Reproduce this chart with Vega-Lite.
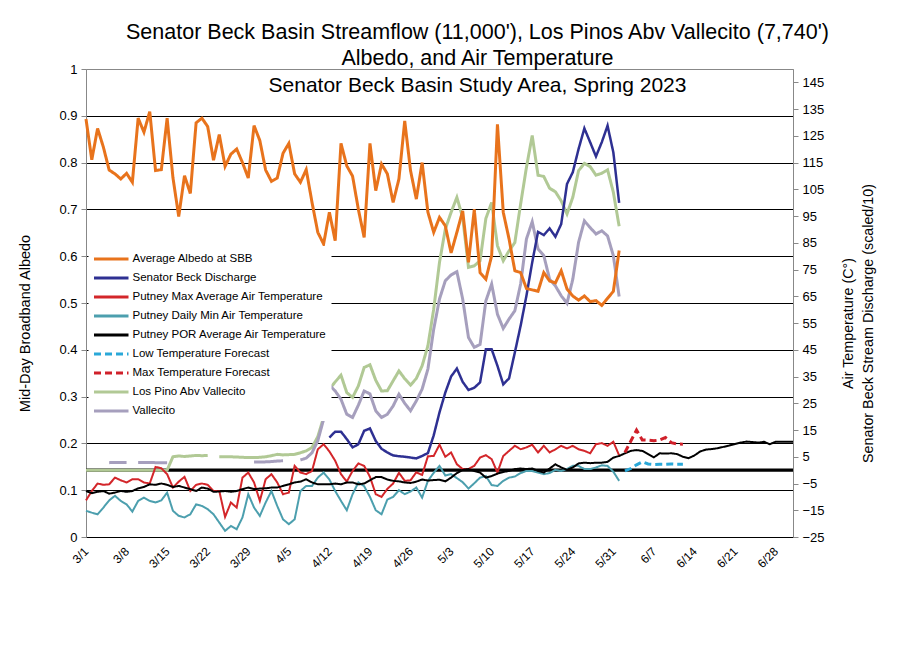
{
"$schema": "https://vega.github.io/schema/vega-lite/v6.json",
"width": 707, "height": 468,
"autosize": {"type": "none"},
"padding": {"left": 86, "top": 69, "right": 116, "bottom": 123},
"background": "white",
"config": {"font": "Liberation Sans", "view": {"stroke": "#888", "strokeWidth": 1}},
"title": {"text": ["Senator Beck Basin Streamflow (11,000'), Los Pinos Abv Vallecito (7,740')", "Albedo, and Air Temperature"], "subtitle": "Senator Beck Basin Study Area, Spring 2023", "anchor": "middle", "frame": "group", "dx": 38, "offset": -33, "font": "Liberation Sans", "fontSize": 21.5, "fontWeight": "normal", "lineHeight": 26, "color": "#000", "subtitleFont": "Liberation Sans", "subtitleFontSize": 21, "subtitleColor": "#000", "subtitlePadding": 6},
"data": {"values": [
{"t":"2023-03-01","a":0.893,"mx":-11.3,"mn":-15.2,"p":-7.8,"lp":0},
{"t":"2023-03-02","a":0.806,"mx":-7.8,"mn":-15.9,"p":-8.6,"lp":0},
{"t":"2023-03-03","a":0.873,"mx":-5.0,"mn":-16.5,"p":-8.1,"lp":0},
{"t":"2023-03-04","a":0.833,"mx":-5.5,"mn":-14.0,"p":-7.8,"lp":0},
{"t":"2023-03-05","a":0.784,"mx":-5.3,"mn":-11.3,"p":-8.8,"lp":0,"v":2.8},
{"t":"2023-03-06","a":0.776,"mx":-2.8,"mn":-9.6,"p":-8.4,"lp":0,"v":2.9},
{"t":"2023-03-07","a":0.765,"mx":-3.8,"mn":-11.5,"p":-7.8,"lp":0,"v":2.9},
{"t":"2023-03-08","a":0.777,"mx":-4.6,"mn":-12.8,"p":-8.1,"lp":0,"v":2.9},
{"t":"2023-03-09","a":0.758,"mx":-3.4,"mn":-15.5,"p":-7.8,"lp":0},
{"t":"2023-03-10","a":0.895,"mx":-3.4,"mn":-11.5,"p":-6.8,"lp":0,"v":2.9},
{"t":"2023-03-11","a":0.865,"mx":-4.6,"mn":-10.3,"p":-6.3,"lp":0,"v":2.9},
{"t":"2023-03-12","a":0.909,"mx":-5.0,"mn":-11.5,"p":-5.3,"lp":0,"v":2.9},
{"t":"2023-03-13","a":0.783,"mx":1.2,"mn":-12.1,"p":-5.5,"lp":0,"v":2.8},
{"t":"2023-03-14","a":0.785,"mx":0.7,"mn":-11.3,"p":-5.0,"lp":0,"v":2.8},
{"t":"2023-03-15","a":0.895,"mx":-1.5,"mn":-8.4,"p":-5.5,"lp":0,"v":2.8},
{"t":"2023-03-16","a":0.768,"mx":-6.5,"mn":-15.2,"p":-6.3,"lp":5.0},
{"t":"2023-03-17","a":0.685,"mx":-4.3,"mn":-17.1,"p":-5.9,"lp":5.3},
{"t":"2023-03-18","a":0.772,"mx":-2.5,"mn":-17.7,"p":-6.5,"lp":5.1},
{"t":"2023-03-19","a":0.734,"mx":-7.8,"mn":-16.5,"p":-7.1,"lp":5.3},
{"t":"2023-03-20","a":0.885,"mx":-5.5,"mn":-12.8,"p":-7.8,"lp":5.5},
{"t":"2023-03-21","a":0.895,"mx":-5.0,"mn":-13.4,"p":-6.5,"lp":5.4},
{"t":"2023-03-22","a":0.877,"mx":-5.5,"mn":-14.6,"p":-6.9,"lp":5.5},
{"t":"2023-03-23","a":0.805,"mx":-7.8,"mn":-16.5,"p":-8.1},
{"t":"2023-03-24","a":0.86,"mx":-7.8,"mn":-19.6,"p":-8.0,"lp":5.0},
{"t":"2023-03-25","a":0.792,"mx":-17.5,"mn":-22.7,"p":-7.8,"lp":5.0},
{"t":"2023-03-26","a":0.818,"mx":-12.1,"mn":-20.9,"p":-8.1,"lp":5.0},
{"t":"2023-03-27","a":0.829,"mx":-14.0,"mn":-22.1,"p":-7.8,"lp":4.9},
{"t":"2023-03-28","a":0.80,"mx":-2.8,"mn":-17.7,"p":-7.1,"lp":4.8},
{"t":"2023-03-29","a":0.767,"mx":-0.9,"mn":-9.0,"p":-6.5,"lp":4.7},
{"t":"2023-03-30","a":0.879,"mx":-4.6,"mn":-14.0,"p":-7.1,"lp":4.7,"v":3.0},
{"t":"2023-03-31","a":0.847,"mx":-11.5,"mn":-17.1,"p":-6.9,"lp":4.8,"v":3.0},
{"t":"2023-04-01","a":0.784,"mx":-3.4,"mn":-12.1,"p":-6.8,"lp":5.0,"v":3.1},
{"t":"2023-04-02","a":0.76,"mx":-1.5,"mn":-7.8,"p":-6.5,"lp":5.4,"v":3.2},
{"t":"2023-04-03","a":0.767,"mx":-4.6,"mn":-13.4,"p":-6.5,"lp":5.9,"v":3.4},
{"t":"2023-04-04","a":0.82,"mx":-9.0,"mn":-18.4,"p":-5.9,"lp":5.7,"v":3.5},
{"t":"2023-04-05","a":0.841,"mx":-8.4,"mn":-20.2,"p":-5.3,"lp":5.8},
{"t":"2023-04-06","a":0.776,"mx":1.6,"mn":-18.4,"p":-4.6,"lp":5.9},
{"t":"2023-04-07","a":0.758,"mx":-0.9,"mn":-7.8,"p":-4.3,"lp":6.5,"v":3.8},
{"t":"2023-04-08","a":0.785,"mx":-1.5,"mn":-5.9,"p":-3.4,"lp":7.2,"v":4.5},
{"t":"2023-04-09","a":0.715,"mx":-0.3,"mn":-5.9,"p":-4.6,"lp":8.5,"v":6.5},
{"t":"2023-04-10","a":0.651,"mx":7.8,"mn":-2.8,"p":-5.3,"lp":12.5,"v":11},
{"t":"2023-04-11","a":0.626,"mx":9.7,"mn":-0.9,"p":-5.3,"lp":19.7,"v":19},
{"t":"2023-04-12","a":0.694,"q":12.2,"mx":7.0,"mn":-3.5,"p":-5.3,"lp":30.3,"v":31.8},
{"t":"2023-04-13","a":0.633,"q":14.4,"mx":3.5,"mn":-7.8,"p":-5.0,"lp":33,"v":29.6},
{"t":"2023-04-14","a":0.841,"q":14.4,"mx":-1.5,"mn":-11.5,"p":-5.3,"lp":35.5,"v":26.5},
{"t":"2023-04-15","a":0.793,"q":11.6,"mx":-4.3,"mn":-15,"p":-4.6,"lp":29.0,"v":20.9},
{"t":"2023-04-16","a":0.771,"q":8.5,"mx":-0.3,"mn":-9,"p":-4.6,"lp":27.2,"v":19.7},
{"t":"2023-04-17","a":0.70,"q":9.7,"mx":2.5,"mn":-4.6,"p":-5.3,"lp":31.5,"v":24.3},
{"t":"2023-04-18","a":0.64,"q":14.7,"mx":1.6,"mn":-6,"p":-5.0,"lp":38.4,"v":29.6},
{"t":"2023-04-19","a":0.841,"q":15.6,"mx":-2.5,"mn":-10,"p":-3.8,"lp":39.4,"v":28.5},
{"t":"2023-04-20","a":0.74,"q":10.9,"mx":-9,"mn":-15,"p":-2.6,"lp":33.6,"v":22.2},
{"t":"2023-04-21","a":0.797,"q":8.0,"mx":-10,"mn":-16.5,"p":-2.6,"lp":29.6,"v":19.7},
{"t":"2023-04-22","a":0.776,"q":6.6,"mx":-7,"mn":-11,"p":-3.5,"lp":29.7,"v":20.9},
{"t":"2023-04-23","a":0.715,"q":5.5,"mx":-5,"mn":-10,"p":-4.0,"lp":33.4,"v":24.0},
{"t":"2023-04-24","a":0.765,"q":5.2,"mx":-1,"mn":-7.5,"p":-4.2,"lp":37.1,"v":28.4},
{"t":"2023-04-25","a":0.889,"q":5.0,"mx":-4,"mn":-9,"p":-4.6,"lp":34.2,"v":25.0},
{"t":"2023-04-26","a":0.783,"q":4.7,"mx":-3.8,"mn":-8,"p":-4.8,"lp":31.8,"v":22.2},
{"t":"2023-04-27","a":0.722,"q":4.4,"mx":-0.8,"mn":-6.5,"p":-4.3,"lp":34.3,"v":25.9},
{"t":"2023-04-28","a":0.80,"q":5.3,"mx":-1.8,"mn":-10.3,"p":-3.5,"lp":39.0,"v":30.3},
{"t":"2023-04-29","a":0.694,"q":6.4,"mx":5.2,"mn":-4,"p":-3.9,"lp":46.5,"v":37.8},
{"t":"2023-04-30","a":0.651,"q":13,"mx":5.3,"mn":-1,"p":-3.7,"lp":60.2,"v":52.7},
{"t":"2023-05-01","a":0.683,"q":21.6,"mx":9.5,"mn":1.6,"p":-3.6,"lp":77.7,"v":64},
{"t":"2023-05-02","a":0.665,"q":29,"mx":5.0,"mn":-2,"p":-4.2,"lp":90.1,"v":70.8},
{"t":"2023-05-03","a":0.607,"q":35,"mx":6.6,"mn":-1.5,"p":-2.8,"lp":96.4,"v":73},
{"t":"2023-05-04","a":0.651,"q":38,"mx":2.2,"mn":-3,"p":-1.1,"lp":102,"v":74.2},
{"t":"2023-05-05","a":0.697,"q":33,"mx":0.4,"mn":-4.5,"p":0.1,"lp":94.5,"v":64},
{"t":"2023-05-06","a":0.587,"q":30.0,"mx":0.4,"mn":-6.9,"p":0.4,"lp":75.8,"v":49.6},
{"t":"2023-05-07","a":0.70,"q":30.8,"mx":1.6,"mn":-4.9,"p":-0.3,"lp":76.4,"v":45.9},
{"t":"2023-05-08","a":0.565,"q":32.8,"mx":4.7,"mn":-2.8,"p":-0.9,"lp":78.3,"v":47},
{"t":"2023-05-09","a":0.551,"q":45.2,"mx":5.6,"mn":-2.2,"p":-2.8,"lp":94.1,"v":63.3},
{"t":"2023-05-10","a":0.601,"q":45.2,"mx":4.1,"mn":-5.6,"p":-2.2,"lp":100.1,"v":69.6},
{"t":"2023-05-11","a":0.882,"q":39.0,"mx":-0.9,"mn":-5.9,"p":-1.3,"lp":83.9,"v":58.3},
{"t":"2023-05-12","a":0.694,"q":32.1,"mx":5.3,"mn":-4,"p":-0.7,"lp":78.3,"v":53},
{"t":"2023-05-13","a":0.637,"q":34.3,"mx":7.2,"mn":-2.8,"p":-0.3,"lp":82.0,"v":56.5},
{"t":"2023-05-14","a":0.569,"q":44.0,"mx":9.1,"mn":-2.4,"p":0.4,"lp":85.1,"v":59.6},
{"t":"2023-05-15","a":0.565,"q":54.0,"mx":7.8,"mn":-1.1,"p":0.6,"lp":99.5,"v":69.6},
{"t":"2023-05-16","a":0.531,"q":65.2,"mx":8.5,"mn":-0.3,"p":0.4,"lp":113.2,"v":86.4},
{"t":"2023-05-17","a":0.528,"q":77.7,"mx":9.5,"mn":-0.3,"p":0.6,"lp":125.1,"v":92.9},
{"t":"2023-05-18","a":0.525,"q":89.1,"mx":6.6,"mn":-0.9,"p":-0.3,"lp":110.3,"v":82.7},
{"t":"2023-05-19","a":0.565,"q":87.9,"mx":9.1,"mn":-1.5,"p":-0.9,"lp":109.8,"v":80.2},
{"t":"2023-05-20","a":0.547,"q":90.4,"mx":6.6,"mn":-1.1,"p":0.6,"lp":105.4,"v":71.4},
{"t":"2023-05-21","a":0.543,"q":87.3,"mx":7.8,"mn":0.1,"p":2.2,"lp":104.1,"v":68.9},
{"t":"2023-05-22","a":0.569,"q":92.0,"mx":9.1,"mn":-0.3,"p":1.0,"lp":100.7,"v":65.2},
{"t":"2023-05-23","a":0.53,"q":107,"mx":8.1,"mn":0.4,"p":0.1,"lp":95.8,"v":62.4},
{"t":"2023-05-24","a":0.515,"q":111.4,"mx":9.1,"mn":1.6,"p":1.0,"lp":102,"v":71.4},
{"t":"2023-05-25","a":0.506,"q":120.1,"mx":7.8,"mn":1.6,"p":2.5,"lp":112,"v":85.2},
{"t":"2023-05-26","a":0.515,"q":127.8,"mx":7.2,"mn":0.4,"p":2.8,"lp":114.7,"v":93.2},
{"t":"2023-05-27","a":0.503,"q":122.6,"mx":6.3,"mn":0.4,"p":2.6,"lp":113.5,"v":90.7},
{"t":"2023-05-28","a":0.505,"q":117.3,"mx":9.7,"mn":1.0,"p":2.8,"lp":110.3,"v":88.3},
{"t":"2023-05-29","a":0.495,"q":122.6,"mx":10.1,"mn":1.8,"p":2.8,"lp":111,"v":89.5},
{"t":"2023-05-30","a":0.51,"q":128.8,"mx":9.1,"mn":1.6,"p":3.1,"lp":112.3,"v":87.6},
{"t":"2023-05-31","a":0.525,"q":118.8,"mx":10.6,"mn":-0.6,"p":4.7,"lp":103.9,"v":80.2},
{"t":"2023-06-01","a":0.612,"q":99.9,"mx":5.5,"mn":-4,"p":5.3,"lp":91.2,"v":64.9},
{"t":"2023-06-02","p":6.3,"lf":-0.3,"hf":6.6},
{"t":"2023-06-03","p":7.2,"lf":0.6,"hf":10.8},
{"t":"2023-06-04","p":7.5,"lf":2.0,"hf":15},
{"t":"2023-06-05","p":7.2,"lf":3.1,"hf":11.3},
{"t":"2023-06-06","p":6.0,"lf":2.3,"hf":11.2},
{"t":"2023-06-07","p":4.8,"lf":2.1,"hf":11},
{"t":"2023-06-08","p":6.3,"lf":2.2,"hf":11.3},
{"t":"2023-06-09","p":6.2,"lf":2.2,"hf":12.2},
{"t":"2023-06-10","p":6.3,"lf":2.3,"hf":10.3},
{"t":"2023-06-11","p":6.0,"lf":2.2,"hf":9.8},
{"t":"2023-06-12","p":5.0,"lf":2.2,"hf":9.7},
{"t":"2023-06-13","p":4.5},
{"t":"2023-06-14","p":5.5},
{"t":"2023-06-15","p":7.0},
{"t":"2023-06-16","p":7.7},
{"t":"2023-06-17","p":7.9},
{"t":"2023-06-18","p":8.2},
{"t":"2023-06-19","p":8.7},
{"t":"2023-06-20","p":9.2},
{"t":"2023-06-21","p":9.8},
{"t":"2023-06-22","p":10.3},
{"t":"2023-06-23","p":10.7},
{"t":"2023-06-24","p":10.5},
{"t":"2023-06-25","p":10.3},
{"t":"2023-06-26","p":10.6},
{"t":"2023-06-27","p":9.7},
{"t":"2023-06-28","p":10.6},
{"t":"2023-06-29","p":10.6},
{"t":"2023-06-30","p":10.6},
{"t":"2023-07-01","p":10.6}
]},
"transform": [{"fold": ["a","q","mx","mn","p","lf","hf","lp","v"], "as": ["s","val"]}],
"encoding": {
  "color": {"field": "s", "type": "nominal",
    "scale": {"domain": ["a","q","mx","mn","p","lf","hf","lp","v"], "range": ["#E8731C","#2E3092","#D3262A","#4C9FAE","#000000","#2AA8D8","#D0202A","#B1C995","#A69FBD"]},
    "legend": {"title": null, "orient": "none", "legendX": 2.5, "legendY": 177, "fillColor": "white", "padding": 4, "symbolType": "M-1,0H3.6", "symbolSize": 225, "symbolStrokeWidth": 3, "labelFont": "Liberation Sans", "labelFontSize": 11.5, "labelColor": "#000", "labelOffset": 22, "rowPadding": 4, "labelLimit": 300,
      "labelExpr": "({'a':'Average Albedo at SBB','q':'Senator Beck Discharge','mx':'Putney Max Average Air Temperature','mn':'Putney Daily Min Air Temperature','p':'Putney POR Average Air Temperature','lf':'Low Temperature Forecast','hf':'Max Temperature Forecast','lp':'Los Pino Abv Vallecito','v':'Vallecito'})[datum.label]"}},
  "strokeDash": {"field": "s", "type": "nominal",
    "scale": {"domain": ["a","q","mx","mn","p","lf","hf","lp","v"], "range": [[1,0],[1,0],[1,0],[1,0],[1,0],[7,4],[7,4],[1,0],[1,0]]},
    "legend": {"title": null, "orient": "none", "legendX": 2.5, "legendY": 177, "fillColor": "white", "padding": 4, "symbolType": "M-1,0H3.6", "symbolSize": 225, "symbolStrokeWidth": 3, "labelFont": "Liberation Sans", "labelFontSize": 11.5, "labelColor": "#000", "labelOffset": 22, "rowPadding": 4, "labelLimit": 300,
      "labelExpr": "({'a':'Average Albedo at SBB','q':'Senator Beck Discharge','mx':'Putney Max Average Air Temperature','mn':'Putney Daily Min Air Temperature','p':'Putney POR Average Air Temperature','lf':'Low Temperature Forecast','hf':'Max Temperature Forecast','lp':'Los Pino Abv Vallecito','v':'Vallecito'})[datum.label]"}}
},
"layer": [
  {
    "encoding": {
      "x": {"field": "t", "type": "temporal",
        "scale": {"type": "utc", "domain": [{"year":2023,"month":3,"date":1,"utc":true},{"year":2023,"month":7,"date":1,"utc":true}]},
        "axis": {"title": null, "grid": false, "ticks": false, "format": "%-m/%-d", "labelAngle": -45, "labelAlign": "right", "labelBaseline": "middle", "labelPadding": 12, "labelFont": "Liberation Sans", "labelFontSize": 12, "labelColor": "#000", "domainColor": "#000", "labelOverlap": false,
          "values": [{"year":2023,"month":3,"date":1,"utc":true},{"year":2023,"month":3,"date":8,"utc":true},{"year":2023,"month":3,"date":15,"utc":true},{"year":2023,"month":3,"date":22,"utc":true},{"year":2023,"month":3,"date":29,"utc":true},{"year":2023,"month":4,"date":5,"utc":true},{"year":2023,"month":4,"date":12,"utc":true},{"year":2023,"month":4,"date":19,"utc":true},{"year":2023,"month":4,"date":26,"utc":true},{"year":2023,"month":5,"date":3,"utc":true},{"year":2023,"month":5,"date":10,"utc":true},{"year":2023,"month":5,"date":17,"utc":true},{"year":2023,"month":5,"date":24,"utc":true},{"year":2023,"month":5,"date":31,"utc":true},{"year":2023,"month":6,"date":7,"utc":true},{"year":2023,"month":6,"date":14,"utc":true},{"year":2023,"month":6,"date":21,"utc":true},{"year":2023,"month":6,"date":28,"utc":true}]}},
      "y": {"field": "val", "type": "quantitative",
      "scale": {"domain": [-25, 150], "nice": false, "zero": false},
      "axis": {"orient": "right", "values": [-25,-15,-5,5,15,25,35,45,55,65,75,85,95,105,115,125,135,145], "grid": false, "domainColor": "#888", "tickColor": "#888", "tickSize": 5, "labelPadding": 4, "labelFont": "Liberation Sans", "labelFontSize": 13, "labelColor": "#000",
        "title": ["Air Temperature (C°)", "Senator Beck Stream Discharge  (scaled/10)"], "titleFont": "Liberation Sans", "titleFontSize": 14.3, "titleFontWeight": "normal", "titleColor": "#000", "titleAngle": 270, "titleX": 48, "titleY": 254, "titleAlign": "center", "titleBaseline": "top", "titleLineHeight": 20}}},
    "layer": [
      {"transform": [{"filter": {"field": "s", "equal": "p"}}], "mark": {"type": "line", "strokeWidth": 3.2, "color": "#000"},
       "encoding": {"y": {"datum": 0, "type": "quantitative"}, "color": {"value": "#000"}, "strokeDash": {"value": [1, 0]}}},
      {"transform": [{"filter": {"field": "s", "oneOf": ["lp", "v"]}}], "mark": {"type": "line", "strokeWidth": 3}},
      {"transform": [{"filter": {"field": "s", "equal": "q"}}], "mark": {"type": "line", "strokeWidth": 2.5}},
      {"transform": [{"filter": {"field": "s", "oneOf": ["mn", "mx", "p"]}}], "mark": {"type": "line", "strokeWidth": 2}},
      {"transform": [{"filter": {"field": "s", "oneOf": ["lf", "hf"]}}], "mark": {"type": "line", "strokeWidth": 3}}
    ]
  },
  {
    "transform": [{"filter": {"field": "s", "equal": "a"}}],
    "mark": {"type": "line", "strokeWidth": 3},
    "encoding": {
      "x": {"field": "t", "type": "temporal", "scale": {"type": "utc", "domain": [{"year":2023,"month":3,"date":1,"utc":true},{"year":2023,"month":7,"date":1,"utc":true}]}},
      "y": {"field": "val", "type": "quantitative",
      "scale": {"domain": [0, 1], "nice": false},
      "axis": {"orient": "left", "values": [0,0.1,0.2,0.3,0.4,0.5,0.6,0.7,0.8,0.9,1], "format": "~g",
        "grid": true, "gridColor": {"condition": {"test": "datum.value > 0.05 && datum.value < 0.95", "value": "#000"}, "value": "rgba(0,0,0,0)"}, "gridWidth": 1,
        "domainColor": "#888", "tickColor": "#888", "tickSize": 5, "labelPadding": 4, "labelFont": "Liberation Sans", "labelFontSize": 13, "labelColor": "#000",
        "title": "Mid-Day Broadband Albedo", "titleFont": "Liberation Sans", "titleFontSize": 14.5, "titleFontWeight": "normal", "titleColor": "#000", "titleAngle": 270, "titleX": -68, "titleY": 254, "titleAlign": "center", "titleBaseline": "top"}}}
  }
],
"resolve": {"scale": {"y": "independent"}}
}
